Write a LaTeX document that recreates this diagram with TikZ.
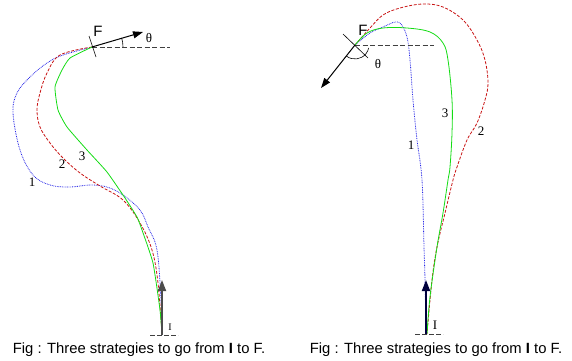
\documentclass[tikz,border=0pt]{standalone}
\usepackage{fontspec}
\setmainfont{Liberation Serif}
\newfontfamily\capfont{Liberation Sans}
\usetikzlibrary{arrows.meta}
\definecolor{cblue}{RGB}{40,40,230}
\definecolor{cred}{RGB}{200,20,20}
\definecolor{cgreen}{RGB}{20,220,20}
\tikzset{
  path1/.style={cblue, line width=0.8pt, dash pattern=on 0.8pt off 0.9pt},
  path2/.style={cred, line width=0.8pt, dash pattern=on 3pt off 1.6pt},
  path3/.style={cgreen, line width=0.8pt},
  refline/.style={black!75, line width=0.8pt, dash pattern=on 5pt off 2.5pt},
  tickline/.style={black, line width=0.6pt},
  dirarrow/.style={black, line width=1pt, -{Triangle[length=10pt,width=7pt]}},
  startarrow/.style={line width=1.8pt, -{Triangle[length=11pt,width=8pt]}},
  curvelabel/.style={font=\fontsize{13}{13}\selectfont, inner sep=0pt},
  flabel/.style={font=\capfont\fontsize{15}{15}\selectfont, inner sep=0pt},
  caption/.style={font=\capfont\fontsize{14.8}{15}\selectfont, inner sep=0pt, anchor=base}
}
\begin{document}
\begin{tikzpicture}[x=1pt,y=-1pt]
\useasboundingbox (0,0) rectangle (572,360);
% ---------- left panel ----------
\coordinate (FL) at (92,47);
\coordinate (IL) at (162,335);
\draw[path1] plot[smooth, tension=0.6] coordinates {(162,335) (161,300) (157,250) (148,227) (140,210) (123,195) (107,187) (90,185) (70,187) (50,185) (33,175) (20,150) (13,113) (17,93) (30,77) (47,63) (63,55) (92,47)};
\draw[path2] plot[smooth, tension=0.6] coordinates {(92,47) (60,55) (47,73) (40,93) (37,110) (40,127) (50,143) (63,158) (80,173) (100,186) (123,200) (140,223) (152,250) (158,283) (162,335)};
\draw[path3] plot[smooth, tension=0.3] coordinates {(92,47) (70,58) (62,70) (55,87) (58,110) (67,127) (87,150) (107,172) (125,198) (137,217) (142,230) (153,263) (160,310) (162,335)};
\coordinate (FLend) at (170,47);
\draw[refline] (FL) -- (FLend);
\coordinate (FLtip) at (143,32);
\draw[dirarrow] (FL) -- (FLtip);
\coordinate (TLa) at (89,36);
\coordinate (TLb) at (96,57);
\draw[tickline] (TLa) -- (TLb);
\draw[tickline] (FL) ++(31,0) arc[start angle=0, end angle=-17, radius=31];
\node[flabel] (Ftxt) at (98,31) {F};
\node[curvelabel] (thL) at (149,38) {θ};
\coordinate (ILtip) at (162,280);
\draw[startarrow, black!70] (IL) -- (ILtip);
\coordinate (BLa) at (150,335);
\coordinate (BLb) at (178,335);
\draw[refline, line width=0.7pt, dash pattern=on 5pt off 2pt] (BLa) -- (BLb);
\node[curvelabel, font=\fontsize{10}{10}\selectfont] (ILtxt) at (170,327) {I};
\node[curvelabel] (l1) at (32,182) {1};
\node[curvelabel] (l2) at (62,164) {2};
\node[curvelabel] (l3) at (82,156) {3};
\node[caption] (capL) at (139,353) {Fig : Three strategies to go from \textbf{I} to F.};
% ---------- right panel ----------
\coordinate (FR) at (355,45);
\coordinate (IR) at (426,334);
\draw[path1] plot[smooth, tension=0.6] coordinates {(426,334) (425,280) (424,247) (422,180) (417,140) (413,100) (410,60) (407,37) (401,24) (395,22) (383,27) (370,33) (355,45)};
\draw[path2] plot[smooth, tension=0.6] coordinates {(355,45) (370,28) (383,15) (400,8) (423,4) (443,7) (463,20) (477,40) (485,60) (488,83) (485,100) (477,123) (467,140) (457,167) (453,180) (445,213) (437,247) (432,280) (427,334)};
\draw[path3] plot[smooth, tension=0.6] coordinates {(355,45) (367,33) (383,28) (407,28) (430,32) (443,43) (448,60) (452,100) (452,133) (450,167) (448,180) (443,213) (437,247) (430,297) (427,334)};
\coordinate (FRend) at (434,45);
\draw[refline] (FR) -- (FRend);
\coordinate (FRtip) at (321,88);
\draw[dirarrow] (FR) -- (FRtip);
\coordinate (TRa) at (343,34);
\coordinate (TRb) at (368,58);
\draw[tickline] (TRa) -- (TRb);
\draw[tickline] (FR) ++(128:14) arc[start angle=128, end angle=12, radius=14];
\node[flabel] (FRtxt) at (363,30) {F};
\node[curvelabel] (thR) at (378,64) {θ};
\coordinate (IRtip) at (426,280);
\draw[startarrow, black!60!blue!60!black] (IR) -- (IRtip);
\coordinate (BRa) at (415,334);
\coordinate (BRb) at (443,334);
\draw[refline, line width=0.7pt, dash pattern=on 5pt off 2pt] (BRa) -- (BRb);
\node[curvelabel, font=\fontsize{13}{13}\selectfont] (IRtxt) at (435,325) {I};
\node[curvelabel] (r1) at (411,145) {1};
\node[curvelabel] (r2) at (481,131) {2};
\node[curvelabel] (r3) at (445,113) {3};
\node[caption] (capR) at (436,353) {Fig : Three strategies to go from \textbf{I} to F.};
\end{tikzpicture}
\end{document}
